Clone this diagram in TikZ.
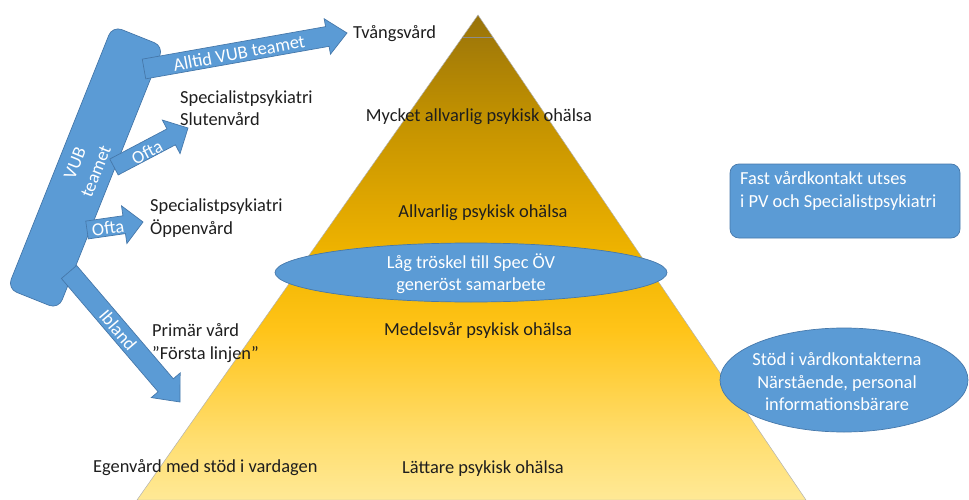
\documentclass[tikz,border=0pt]{standalone}
\usepackage{fontspec}
\setmainfont{Carlito}
\usetikzlibrary{calc,shapes.geometric}
\definecolor{vblue}{RGB}{91,155,213}
\definecolor{vblueline}{RGB}{70,120,170}
\definecolor{ink}{RGB}{30,30,30}
\definecolor{pa}{RGB}{255,233,150}
\definecolor{pb}{RGB}{255,222,112}
\definecolor{pc}{RGB}{255,196,25}
\definecolor{pd}{RGB}{242,182,0}
\definecolor{pe}{RGB}{224,167,0}
\definecolor{pf}{RGB}{195,146,0}
\definecolor{pg}{RGB}{152,115,10}
\pgfdeclareverticalshading{pyrshade}{100bp}{color(0bp)=(pa); color(25bp)=(pa); color(31.2bp)=(pb); color(42.5bp)=(pc); color(49.5bp)=(pd); color(55.4bp)=(pe); color(64.2bp)=(pf); color(75bp)=(pg); color(100bp)=(pg)}
\newcommand{\vubarrow}[5]{%
  \coordinate (hb) at ($(#2)!#5!(#1)$);
  \filldraw[bluefill] ($(#1)!#3!90:(#2)$) -- ($(hb)!#3!90:(#2)$) -- ($(hb)!#4!90:(#2)$) -- (#2)
    -- ($(hb)!#4!-90:(#2)$) -- ($(hb)!#3!-90:(#2)$) -- ($(#1)!#3!-90:(#2)$) -- cycle;
}
\begin{document}
\begin{tikzpicture}[x=1pt,y=-1pt,
  lbl/.style={font=\fontsize{18.4}{22.5}\selectfont, text=ink, inner sep=0pt},
  wlbl/.style={font=\fontsize{18.4}{22.5}\selectfont, text=white, inner sep=0pt},
  bluefill/.style={fill=vblue, draw=vblueline, line width=0.7pt}]
\useasboundingbox (0,0) rectangle (969,500);
% pyramid
\coordinate (apex) at (478,15);
\coordinate (bl) at (137,500);
\coordinate (br) at (806,500);
\shadedraw[shading=pyrshade, draw=black!30, line width=0.5pt] (apex) -- (br) -- (bl) -- cycle;
\draw[line width=0.8pt, color=black!45] ($(apex)!0.047!(bl)$) -- ($(apex)!0.047!(br)$);
% VUB box
\node[bluefill, rounded corners=10pt, rotate=68.2, minimum width=283pt, minimum height=55pt,
      wlbl, align=center] (vub) at (85.5,167.5) {VUB\\teamet};
% arrows
\coordinate (a1s) at (144,69);  \coordinate (a1t) at (347,33);
\coordinate (a2s) at (114,167); \coordinate (a2t) at (188,128);
\coordinate (a3s) at (87,230);  \coordinate (a3t) at (143,222);
\coordinate (a4s) at (69,272);  \coordinate (a4t) at (180,402);
\vubarrow{a1s}{a1t}{10pt}{18pt}{20pt}
\vubarrow{a2s}{a2t}{9pt}{19pt}{19pt}
\vubarrow{a3s}{a3t}{9pt}{19pt}{19pt}
\vubarrow{a4s}{a4t}{10pt}{19pt}{22pt}
\node[wlbl, rotate=10.6] (t1) at (239,53) {Alltid VUB teamet};
\node[wlbl, rotate=27.8] (t2) at (147,152) {Ofta};
\node[wlbl, rotate=8.1] (t3) at (108,228) {Ofta};
\node[wlbl, rotate=-49.5] (t4) at (118,330) {Ibland};
% left labels
\node[lbl, anchor=base west] (tv) at (353,39) {Tvångsvård};
\node[lbl, anchor=west, align=left] (slut) at (180,108) {Specialistpsykiatri\\Slutenvård};
\node[lbl, anchor=west, align=left] (oppen) at (150,218) {Specialistpsykiatri\\Öppenvård};
\node[lbl, anchor=west, align=left] (prim) at (152,343) {Primär vård\\”Första linjen”};
\node[lbl, anchor=base west] (egen) at (93,472.5) {Egenvård med stöd i vardagen};
% pyramid labels
\node[lbl] (l1) at (479,117) {Mycket allvarlig psykisk ohälsa};
\node[lbl] (l2) at (483,213) {Allvarlig psykisk ohälsa};
\node[lbl] (l3) at (478,330) {Medelsvår psykisk ohälsa};
\node[lbl] (l4) at (483,469) {Lättare psykisk ohälsa};
% ellipses and box
\node[bluefill, ellipse, minimum width=392pt, minimum height=59pt, inner sep=0pt] (lag) at (471,272.5) {};
\node[wlbl, align=center] (lagt) at (471,273.5) {Låg tröskel till Spec ÖV\\generöst samarbete};
\node[bluefill, rounded corners=9pt, minimum width=230pt, minimum height=74pt, inner sep=0pt] (fast) at (845,201) {};
\node[wlbl, anchor=west, align=left] (fastt) at (740,191) {Fast vårdkontakt utses\\i PV och Specialistpsykiatri};
\node[bluefill, ellipse, minimum width=248pt, minimum height=104pt, inner sep=0pt] (stod) at (844,380) {};
\node[wlbl, align=center] (stodt) at (837,382) {Stöd i vårdkontakterna\\Närstående, personal\\informationsbärare};
\end{tikzpicture}
\end{document}
